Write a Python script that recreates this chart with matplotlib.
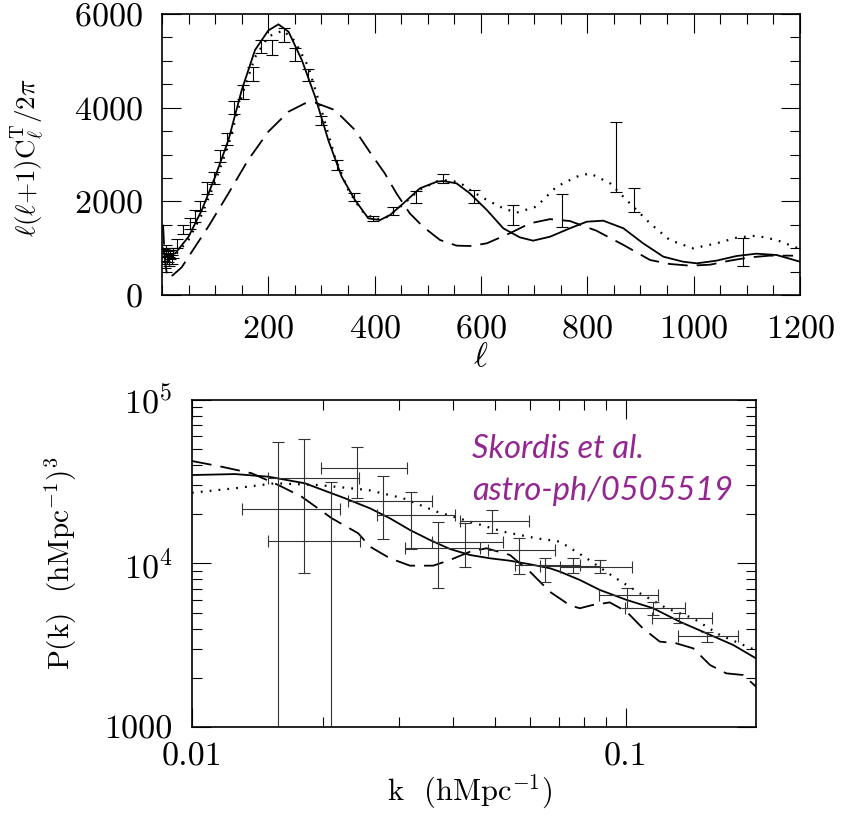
import numpy as np
import matplotlib
matplotlib.use('Agg')
import matplotlib.pyplot as plt
from matplotlib.ticker import MultipleLocator, FixedLocator, FixedFormatter, NullFormatter, LogLocator

plt.rcParams['font.family'] = 'cmr10'
plt.rcParams['mathtext.fontset'] = 'cm'
plt.rcParams['axes.formatter.use_mathtext'] = True

# ---- CMB panel: model curves (l, l(l+1)C_l/2pi) ----
ell_solid = [2, 4, 7, 11, 16, 25, 50, 75, 100, 125, 150, 175, 200, 219, 238, 263, 288,
             313, 338, 363, 388, 410, 429, 454, 485, 517, 529, 554, 579, 611, 642, 673,
             698, 730, 767, 799, 830, 868, 905, 943, 980, 1006, 1043, 1081, 1118, 1156, 1200]
cl_solid = [1000, 900, 860, 850, 860, 890, 1245, 1815, 2526, 3310, 4378, 5232, 5650, 5780,
            5623, 5018, 4235, 3300, 2526, 2029, 1637, 1600, 1708, 1957, 2277, 2420, 2434,
            2384, 2170, 1815, 1423, 1231, 1160, 1245, 1423, 1565, 1587, 1423, 1103, 818,
            711, 676, 733, 833, 882, 854, 711]

ell_dot = [2, 10, 25, 50, 75, 100, 125, 150, 175, 200, 228, 250, 275, 300, 325, 350, 375,
           400, 420, 450, 485, 520, 540, 560, 585, 611, 642, 667, 704, 742, 780, 805, 843,
           880, 918, 955, 999, 1043, 1081, 1118, 1156, 1197]
cl_dot = [900, 780, 850, 1180, 1720, 2420, 3200, 4250, 5080, 5520, 5650, 5420, 4880, 3950,
          2950, 2250, 1800, 1620, 1640, 1900, 2250, 2440, 2450, 2400, 2200, 2029, 1850, 1758,
          1886, 2313, 2526, 2598, 2384, 1957, 1530, 1174, 996, 1103, 1224, 1267, 1174, 996]

ell_dash = [2, 5, 10, 20, 37, 50, 87, 125, 162, 200, 238, 269, 288, 325, 363, 394, 419, 441,
            466, 491, 523, 554, 579, 611, 654, 692, 730, 767, 817, 868, 918, 955, 993, 1031,
            1068, 1106, 1143, 1187]
cl_dash = [1500, 800, 370, 420, 590, 818, 1458, 2170, 2883, 3488, 3915, 4093, 4107, 3950,
           3523, 3000, 2598, 2170, 1744, 1458, 1174, 1054, 1046, 1103, 1317, 1530, 1620, 1580,
           1373, 1068, 747, 662, 626, 647, 733, 804, 840, 840]

# CMB band powers
ell_data = [3, 5, 7, 9, 11, 13, 15, 18, 21, 28, 40, 53, 62, 72, 84, 97, 109, 122, 136, 153,
            171, 186, 207, 230, 251, 275, 300, 330, 361, 396, 435, 478, 528, 586, 660, 752,
            853, 888, 1093]
cl_data = [850, 700, 950, 780, 820, 720, 860, 760, 900, 1103, 1395, 1530, 1687, 1893, 2277,
           2491, 2972, 3327, 4004, 4328, 4723, 5300, 5290, 5552, 5142, 4698, 3726, 2776, 2093,
           1630, 1790, 2093, 2491, 2107, 1708, 1794, 2943, 2024, 925]
cl_err = [130, 120, 120, 110, 110, 100, 100, 100, 100, 100, 100, 120, 120, 110, 130, 130, 130,
          130, 130, 150, 150, 140, 160, 140, 140, 130, 90, 110, 90, 60, 90, 120, 93, 135, 213,
          352, 751, 253, 299]

# ---- matter power spectrum panel ----
k_solid = [0.0100, 0.01256, 0.0150, 0.01821, 0.02252, 0.02571, 0.02859, 0.03179, 0.03535,
           0.0393, 0.04371, 0.0486, 0.05403, 0.06009, 0.06681, 0.07047, 0.07834, 0.0871,
           0.1004, 0.1156, 0.1331, 0.1534, 0.1767, 0.1994]
P_solid = [34750, 35230, 33960, 30940, 25050, 21760, 18900, 16030, 13920, 12270, 11270,
           10760, 10400, 9890, 9350, 8912, 7925, 6887, 5985, 5322, 4406, 3741, 3174, 2630]

k_dot = [0.0100, 0.01256, 0.01553, 0.01954, 0.02548, 0.03069, 0.03662, 0.04371, 0.05216,
         0.06225, 0.0705, 0.0812, 0.0935, 0.1077, 0.1241, 0.1429, 0.1646, 0.1931, 0.1994]
P_dot = [27100, 28840, 30940, 30200, 28150, 25050, 20760, 18040, 15650, 14260, 13600, 10760,
         8320, 6577, 5322, 4624, 3656, 3050, 2950]

k_dash = [0.0100, 0.0117, 0.01372, 0.01581, 0.0179, 0.0210, 0.02416, 0.02571, 0.02859,
          0.03179, 0.03597, 0.0393, 0.04371, 0.0477, 0.05403, 0.06009, 0.06681, 0.0743,
          0.07834, 0.0837, 0.0918, 0.1004, 0.1094, 0.1197, 0.1305, 0.1429, 0.1563, 0.1704,
          0.1862, 0.1994]
P_dash = [42350, 39080, 35650, 30200, 25620, 18900, 15300, 12680, 10760, 9700, 9700, 10500,
          11800, 12390, 11280, 8912, 6714, 5546, 5322, 5570, 5780, 5070, 4014, 3327, 3250,
          3027, 2393, 2128, 2079, 1767]

k_pts = [0.01576, 0.02091, 0.01812, 0.02403, 0.02760, 0.03196, 0.03688, 0.04263, 0.04912,
         0.05668, 0.06506, 0.07537, 0.08712, 0.1004, 0.1156, 0.1327, 0.1535]
k_lo = [0.01499, 0.01499, 0.01302, 0.01980, 0.02292, 0.02664, 0.03096, 0.03567, 0.04145,
        0.04815, 0.05548, 0.06336, 0.07045, 0.08680, 0.09947, 0.1146, 0.1320]
k_hi = [0.02430, 0.02439, 0.02193, 0.03134, 0.03567, 0.04036, 0.04609, 0.05214, 0.05986,
        0.06861, 0.07834, 0.08712, 0.1031, 0.1187, 0.1368, 0.1576, 0.1815]
P_pts = [33200, 13790, 21540, 38220, 24120, 19800, 12490, 13590, 18190, 12090, 9790, 9650,
         9560, 6416, 5321, 4661, 3617]
P_hi = [55120, 31650, 57480, 51810, 34290, 27260, 18020, 17690, 21240, 14260, 10800, 10760,
        10500, 7051, 5790, 4959, 3795]
P_lo = [100, 100, 8710, 25050, 14120, 12270, 7112, 9480, 15430, 8590, 7707, 8710, 8710,
        5321, 4842, 4309, 3324]

fig = plt.figure(figsize=(8.42, 8.16), dpi=100)

def style_ticks(ax):
    ax.tick_params(which='both', direction='in', top=True, right=True,
                   labelsize=24.5, pad=14, width=0.8)
    ax.tick_params(which='major', length=14)
    ax.tick_params(which='minor', length=7)
    for s in ax.spines.values():
        s.set_linewidth(1.2)

# 1. CMB panel
ax1 = fig.add_axes([0.1924, 0.6385, 0.7577, 0.3443])
ax1.plot(ell_solid, cl_solid, color='black', lw=1.3)
ax1.plot(ell_dot, cl_dot, color='black', lw=1.6, linestyle=(0, (0.8, 3.2)))
ax1.plot(ell_dash, cl_dash, color='black', lw=1.3, linestyle=(0, (11, 5)))
ax1.errorbar(ell_data, cl_data, yerr=cl_err, fmt='none', ecolor='black',
             elinewidth=0.8, capsize=4, capthick=0.8)
ax1.set_xlim(0, 1200)
ax1.set_ylim(0, 6000)
ax1.set_xticks([200, 400, 600, 800, 1000, 1200])
ax1.set_yticks([0, 2000, 4000, 6000])
ax1.xaxis.set_minor_locator(MultipleLocator(50))
ax1.yaxis.set_minor_locator(MultipleLocator(500))
style_ticks(ax1)
ax1.set_xlabel(r'$\ell$', fontsize=24)
ax1.xaxis.set_label_coords(0.5, -0.17)
ax1.set_ylabel(r'$\ell(\ell{+}1)\mathrm{C}^{\mathrm{T}}_{\ell}/2\pi$', fontsize=19.5)
ax1.yaxis.set_label_coords(-0.18, 0.49)

# 2. P(k) panel
ax2 = fig.add_axes([0.2280, 0.1091, 0.6698, 0.4007])
ax2.set_xscale('log')
ax2.set_yscale('log')
ax2.plot(k_solid, P_solid, color='black', lw=1.3)
ax2.plot(k_dot, P_dot, color='black', lw=1.6, linestyle=(0, (0.8, 3.2)))
ax2.plot(k_dash, P_dash, color='black', lw=1.3, linestyle=(0, (11, 5)))
xerr = [np.array(k_pts) - np.array(k_lo), np.array(k_hi) - np.array(k_pts)]
yerr = [np.array(P_pts) - np.array(P_lo), np.array(P_hi) - np.array(P_pts)]
ax2.errorbar(k_pts, P_pts, xerr=xerr, yerr=yerr, fmt='none', ecolor='#333333',
             elinewidth=0.8, capsize=4, capthick=0.8)
ax2.set_xlim(0.01, 0.1994)
ax2.set_ylim(1000, 1e5)
ax2.xaxis.set_major_locator(FixedLocator([0.01, 0.1]))
ax2.xaxis.set_major_formatter(FixedFormatter(['0.01', '0.1']))
ax2.xaxis.set_minor_locator(LogLocator(subs=np.arange(2, 10)))
ax2.xaxis.set_minor_formatter(NullFormatter())
ax2.yaxis.set_major_locator(FixedLocator([1000, 1e4, 1e5]))
ax2.yaxis.set_major_formatter(FixedFormatter(['1000', r'$10^4$', r'$10^5$']))
ax2.yaxis.set_minor_locator(LogLocator(subs=np.arange(2, 10)))
ax2.yaxis.set_minor_formatter(NullFormatter())
style_ticks(ax2)
ax2.tick_params(axis='x', pad=11)
ax2.set_xlabel(r'k  (hMpc$^{-1}$)', fontsize=22)
ax2.xaxis.set_label_coords(0.493, -0.14)
ax2.set_ylabel(r'P(k)  (hMpc$^{-1}$)$^3$', fontsize=21)
ax2.yaxis.set_label_coords(-0.2, 0.5)

fig.text(472 / 842, 1 - 458 / 816, 'Skordis et al.', color='#93278F', fontsize=23.5,
         family='Lato', style='italic', va='baseline', ha='left')
fig.text(472 / 842, 1 - 500 / 816, 'astro-ph/0505519', color='#93278F', fontsize=23.5,
         family='Lato', style='italic', va='baseline', ha='left')

fig.savefig('out.png', dpi=100)
